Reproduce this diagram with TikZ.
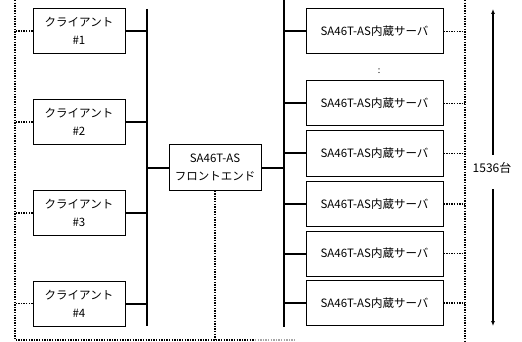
\documentclass[tikz,border=0pt]{standalone}
\usepackage{fontspec}
\setmainfont{Noto Sans CJK JP}
\usetikzlibrary{arrows.meta}

\begin{document}
\begin{tikzpicture}[x=1pt, y=-1pt,
  box/.style={draw, line width=1pt, minimum width=92pt, minimum height=45pt,
    align=center, inner sep=0pt, font=\fontsize{11.5}{18}\selectfont},
  srv/.style={box, minimum width=137pt},
  bus/.style={line width=2.4pt},
  link/.style={line width=2pt},
  dots/.style={line width=1.4pt, dash pattern=on 1.4pt off 1.2pt}]
  \useasboundingbox (0,0) rectangle (522,342);

  % clients
  \node[box] (c1) at (79,31)    {クライアント\\\#1};
  \node[box] (c2) at (79,122)   {クライアント\\\#2};
  \node[box] (c3) at (79,213)   {クライアント\\\#3};
  \node[box] (c4) at (79,303.5) {クライアント\\\#4};

  % front end
  \node[box] (fe) at (215,167.5) {SA46T-AS\\フロントエンド};

  % servers
  \node[srv] (s1) at (374.5,31.5) {SA46T-AS内蔵サーバ};
  \node[font=\fontsize{9}{9}\selectfont] (gap) at (379,71) {:};
  \node[srv] (s2) at (374.5,103.5) {SA46T-AS内蔵サーバ};
  \node[srv] (s3) at (374.5,153.5) {SA46T-AS内蔵サーバ};
  \node[srv] (s4) at (374.5,204)   {SA46T-AS内蔵サーバ};
  \node[srv] (s5) at (374.5,253.5) {SA46T-AS内蔵サーバ};
  \node[srv] (s6) at (374.5,303)   {SA46T-AS内蔵サーバ};

  % buses
  \coordinate (lt) at (147,9);
  \coordinate (lb) at (147,326);
  \coordinate (rt) at (284,0);
  \coordinate (rb) at (284,327);
  \draw[bus] (lt) -- (lb);
  \draw[bus] (rt) -- (rb);

  \foreach \c in {c1,c2,c3,c4}
    \draw[link] (\c.east) -- (\c.east -| lt);
  \draw[link] (fe.west) -- (fe.west -| lt);
  \draw[link] (fe.east) -- (fe.east -| rt);
  \foreach \s in {s1,s2,s3,s4,s5,s6}
    \draw[link] (\s.west) -- (\s.west -| rt);

  % dotted borders
  \coordinate (ld) at (15,0);
  \coordinate (lc) at (15,340);
  \coordinate (fd) at (215,340);
  \coordinate (be) at (255,340);
  \coordinate (bf) at (295,340);
  \coordinate (rd) at (465,0);
  \coordinate (rc) at (465,342);
  \draw[dots] (ld) -- (lc) -- (be);
  \draw[dots, black!35] (be) -- (bf);
  \draw[dots] (rd) -- (rc);
  \draw[dots] (fe.south) -- (fd);
  \foreach \c in {c1,c2,c3,c4}
    \draw[dots] (\c.west) -- (\c.west -| ld);
  \foreach \s in {s1,s2,s3,s4,s5,s6}
    \draw[dots] (\s.east) -- (\s.east -| rd);

  % number of servers
  \node[font=\fontsize{12}{14}\selectfont] (cnt) at (492,168) {1536台};
  \coordinate (at) at (493,9);
  \coordinate (ab) at (493,326);
  \draw[line width=1.3pt, -{Latex[length=5pt,width=4pt]}] (cnt.north -| at) ++(0,-4) -- (at);
  \draw[line width=1.3pt, -{Latex[length=5pt,width=4pt]}] (cnt.south -| ab) ++(0,12) -- (ab);
\end{tikzpicture}
\end{document}
